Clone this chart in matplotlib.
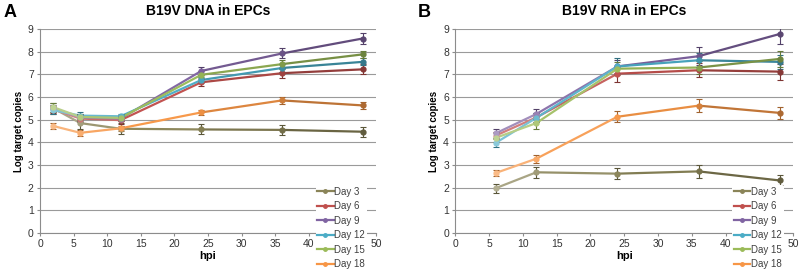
import matplotlib.pyplot as plt
import matplotlib.colors as mcolors
import numpy as np

plt.rcParams["font.family"] = ["Liberation Sans", "DejaVu Sans"]

labels = ["Day 3", "Day 6", "Day 9", "Day 12", "Day 15", "Day 18"]
colors = ["#8a8458", "#c0504d", "#8064a2", "#4bacc6", "#9bbb59", "#f79646"]

dna_hpi = [2, 6, 12, 24, 36, 48]
dna_vals = [
    [5.50, 4.85, 4.60, 4.57, 4.55, 4.47],
    [5.45, 5.05, 4.98, 6.65, 7.05, 7.22],
    [5.50, 5.10, 5.05, 7.15, 7.92, 8.58],
    [5.42, 5.18, 5.15, 6.75, 7.28, 7.55],
    [5.55, 5.12, 5.08, 6.98, 7.45, 7.88],
    [4.72, 4.42, 4.62, 5.32, 5.85, 5.63],
]
dna_err = [
    [0.25, 0.25, 0.25, 0.22, 0.22, 0.22],
    [0.15, 0.15, 0.15, 0.15, 0.22, 0.22],
    [0.15, 0.15, 0.12, 0.18, 0.22, 0.25],
    [0.15, 0.15, 0.12, 0.15, 0.18, 0.15],
    [0.20, 0.15, 0.12, 0.15, 0.20, 0.15],
    [0.12, 0.12, 0.12, 0.12, 0.15, 0.15],
]

rna_hpi = [6, 12, 24, 36, 48]
rna_vals = [
    [1.98, 2.68, 2.62, 2.72, 2.32],
    [4.30, 5.10, 7.03, 7.18, 7.12],
    [4.40, 5.25, 7.35, 7.80, 8.78],
    [3.98, 5.08, 7.35, 7.62, 7.55],
    [4.20, 4.85, 7.25, 7.30, 7.68],
    [2.65, 3.28, 5.13, 5.62, 5.30],
]
rna_err = [
    [0.20, 0.25, 0.25, 0.28, 0.22],
    [0.15, 0.20, 0.35, 0.30, 0.35],
    [0.20, 0.22, 0.30, 0.40, 0.45],
    [0.20, 0.20, 0.35, 0.30, 0.30],
    [0.20, 0.25, 0.30, 0.30, 0.35],
    [0.12, 0.18, 0.25, 0.30, 0.28],
]

x_ticks = list(range(0, 51, 5))
# the 45 label sits behind the legend in the original
x_ticklabels = ["" if t == 45 else str(t) for t in x_ticks]


def shade(color, f):
    # f < 0 lighter, f > 0 darker
    c = np.array(mcolors.to_rgb(color))
    if f < 0:
        return tuple(c + (1 - c) * (-f))
    return tuple(c * (1 - f))


def panel(ax, hpi, vals, errs, title):
    for i in range(len(labels)):
        col = colors[i]
        n = len(hpi)
        for k in range(n - 1):
            f = -0.35 + 0.65 * (k + 0.5) / (n - 1)
            ax.plot(hpi[k:k + 2], vals[i][k:k + 2], color=shade(col, f), lw=1.6,
                    solid_capstyle="round", zorder=3)
        ax.errorbar(hpi, vals[i], yerr=errs[i], fmt="none", ecolor=shade(col, 0.35),
                    elinewidth=0.8, capsize=2.2, capthick=0.8, zorder=4)
        for k in range(n):
            f = -0.35 + 0.65 * k / (n - 1)
            ax.plot(hpi[k], vals[i][k], "o", ms=3.5, color=shade(col, f), zorder=5)
        ax.plot([], [], "-o", color=col, lw=1.6, ms=2.5, label=labels[i])

    ax.set_xlim(0, 50)
    ax.set_ylim(0, 9)
    ax.set_xticks(x_ticks)
    ax.set_xticklabels(x_ticklabels)
    ax.set_yticks(range(0, 10))
    ax.yaxis.grid(True, color="#9a9a9a", lw=0.8)
    ax.set_axisbelow(True)
    for s in ["top", "right"]:
        ax.spines[s].set_visible(False)
    for s in ["left", "bottom"]:
        ax.spines[s].set_color("#8c8c8c")
    ax.tick_params(labelsize=7.5, length=2.5, color="#8c8c8c", pad=2, labelcolor="#333333")
    ax.set_xlabel("hpi", fontsize=8, fontweight="bold", labelpad=1)
    ax.set_ylabel("Log target copies", fontsize=7, fontweight="bold", labelpad=3)
    ax.set_title(title, fontsize=10, fontweight="bold", pad=10)
    leg = ax.legend(loc="lower left", bbox_to_anchor=(0.82, -0.185), fontsize=7,
                    frameon=True, handlelength=1.7, handletextpad=0.1,
                    labelspacing=0.47, borderpad=0.15, borderaxespad=0)
    leg.get_frame().set_edgecolor("none")
    leg.get_frame().set_facecolor("white")
    leg.get_frame().set_alpha(1)
    leg.set_zorder(10)
    for t in leg.get_texts():
        t.set_color("#404040")


fig = plt.figure(figsize=(8, 2.71), dpi=100)
ax1 = fig.add_axes([0.05, 0.14, 0.42, 0.753])
ax2 = fig.add_axes([0.569, 0.14, 0.4225, 0.753])

panel(ax1, dna_hpi, dna_vals, dna_err, "B19V DNA in EPCs")
panel(ax2, rna_hpi, rna_vals, rna_err, "B19V RNA in EPCs")

fig.text(0.005, 0.985, "A", fontsize=13, fontweight="bold", va="top", ha="left")
fig.text(0.522, 0.985, "B", fontsize=13, fontweight="bold", va="top", ha="left")

fig.savefig("out.png", dpi=100)
